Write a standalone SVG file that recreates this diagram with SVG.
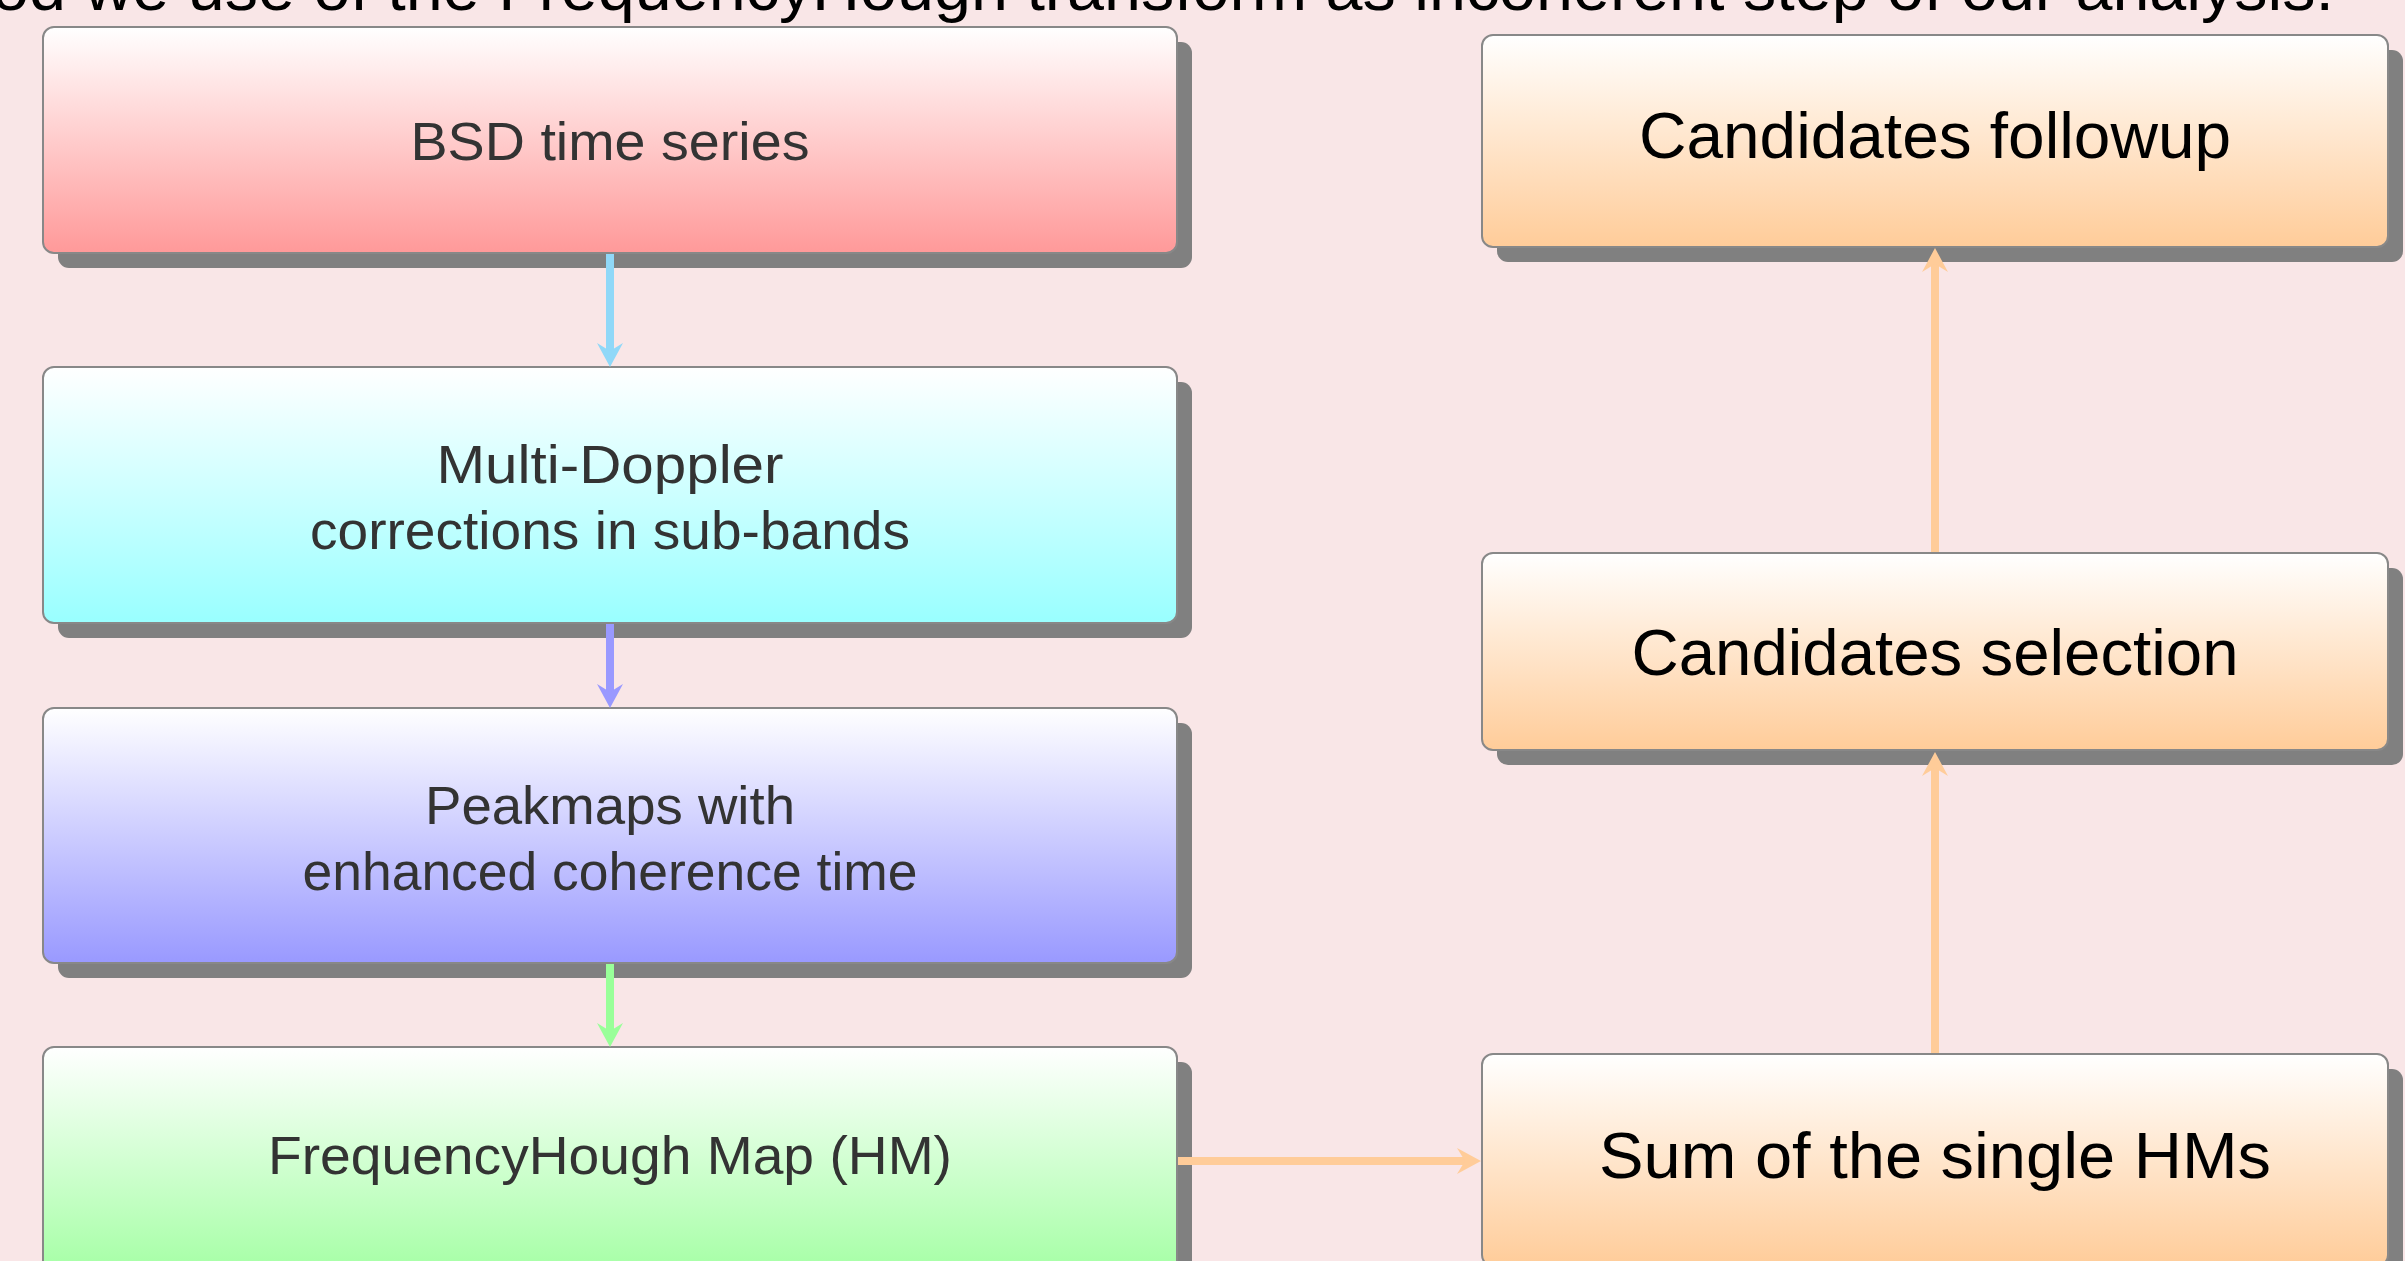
<svg xmlns="http://www.w3.org/2000/svg" width="2405" height="1261" viewBox="0 0 2405 1261">
<defs>
<linearGradient id="gRed" x1="0" y1="0" x2="0" y2="1"><stop offset="0" stop-color="#ffffff"/><stop offset="1" stop-color="#ff9999"/></linearGradient>
<linearGradient id="gCyan" x1="0" y1="0" x2="0" y2="1"><stop offset="0" stop-color="#ffffff"/><stop offset="1" stop-color="#99ffff"/></linearGradient>
<linearGradient id="gBlue" x1="0" y1="0" x2="0" y2="1"><stop offset="0" stop-color="#ffffff"/><stop offset="1" stop-color="#9999ff"/></linearGradient>
<linearGradient id="gGreen" x1="0" y1="0" x2="0" y2="1"><stop offset="0" stop-color="#ffffff"/><stop offset="1" stop-color="#99ff99"/></linearGradient>
<linearGradient id="gOrange" x1="0" y1="0" x2="0" y2="1"><stop offset="0" stop-color="#ffffff"/><stop offset="1" stop-color="#ffcc99"/></linearGradient>
</defs>
<style>
.shadow{fill:#808080}
.box{stroke:#888888;stroke-width:2}
.lt{font-family:"Liberation Sans",Arial,sans-serif;font-size:54px;fill:#333333;text-anchor:middle}
.rt{font-family:"Liberation Sans",Arial,sans-serif;font-size:64px;fill:#000000;text-anchor:middle}
.title{font-family:"Liberation Sans",Arial,sans-serif;font-size:64px;fill:#000000}
.conn{fill:none;stroke-width:8}
</style>
<rect x="0" y="0" width="2405" height="1261" fill="#f9e6e7"/>
<text class="title" x="-8" y="10" textLength="2342" lengthAdjust="spacingAndGlyphs">od we use of the FrequencyHough transform as incoherent step of our analysis.</text>

<g id="node-bsd">
<rect class="shadow" x="58" y="42" width="1134" height="226" rx="11"/>
<rect class="box" x="43" y="27" width="1134" height="226" rx="11" fill="url(#gRed)"/>
<text class="lt" x="610" y="160" textLength="399" lengthAdjust="spacingAndGlyphs">BSD time series</text>
</g>
<g id="node-doppler">
<rect class="shadow" x="58" y="382" width="1134" height="256" rx="11"/>
<rect class="box" x="43" y="367" width="1134" height="256" rx="11" fill="url(#gCyan)"/>
<text class="lt" x="610" y="483" textLength="347" lengthAdjust="spacingAndGlyphs">Multi-Doppler</text>
<text class="lt" x="610" y="549" textLength="600" lengthAdjust="spacingAndGlyphs">corrections in sub-bands</text>
</g>
<g id="node-peakmaps">
<rect class="shadow" x="58" y="723" width="1134" height="255" rx="11"/>
<rect class="box" x="43" y="708" width="1134" height="255" rx="11" fill="url(#gBlue)"/>
<text class="lt" x="610" y="824" textLength="370" lengthAdjust="spacingAndGlyphs">Peakmaps with</text>
<text class="lt" x="610" y="890" textLength="615" lengthAdjust="spacingAndGlyphs">enhanced coherence time</text>
</g>
<g id="node-hm">
<rect class="shadow" x="58" y="1062" width="1134" height="256" rx="11"/>
<rect class="box" x="43" y="1047" width="1134" height="256" rx="11" fill="url(#gGreen)"/>
<text class="lt" x="610" y="1174" textLength="684" lengthAdjust="spacingAndGlyphs">FrequencyHough Map (HM)</text>
</g>
<g id="node-followup">
<rect class="shadow" x="1497" y="50" width="906" height="212" rx="11"/>
<rect class="box" x="1482" y="35" width="906" height="212" rx="11" fill="url(#gOrange)"/>
<text class="rt" x="1935" y="158" textLength="592" lengthAdjust="spacingAndGlyphs">Candidates followup</text>
</g>
<g id="node-selection">
<rect class="shadow" x="1497" y="568" width="906" height="197" rx="11"/>
<rect class="box" x="1482" y="553" width="906" height="197" rx="11" fill="url(#gOrange)"/>
<text class="rt" x="1935" y="675" textLength="607" lengthAdjust="spacingAndGlyphs">Candidates selection</text>
</g>
<g id="node-sum">
<rect class="shadow" x="1497" y="1069" width="906" height="212" rx="11"/>
<rect class="box" x="1482" y="1054" width="906" height="212" rx="11" fill="url(#gOrange)"/>
<text class="rt" x="1935" y="1178" textLength="672" lengthAdjust="spacingAndGlyphs">Sum of the single HMs</text>
</g>

<g id="connectors">
<line class="conn" stroke="#90d8f8" x1="610" y1="254" x2="610" y2="356"/>
<path fill="#90d8f8" d="M610,367 L597,343 L610,351 L623,343 Z"/>
<line class="conn" stroke="#9999ff" x1="610" y1="624" x2="610" y2="697"/>
<path fill="#9999ff" d="M610,708 L597,684 L610,692 L623,684 Z"/>
<line class="conn" stroke="#99ff99" x1="610" y1="964" x2="610" y2="1036"/>
<path fill="#99ff99" d="M610,1047 L597,1023 L610,1031 L623,1023 Z"/>
<line class="conn" stroke="#ffcc99" x1="1178" y1="1161" x2="1470" y2="1161"/>
<path fill="#ffcc99" d="M1481,1161 L1457,1148 L1465,1161 L1457,1174 Z"/>
<line class="conn" stroke="#ffcc99" x1="1935" y1="1053" x2="1935" y2="763"/>
<path fill="#ffcc99" d="M1935,752 L1922,776 L1935,768 L1948,776 Z"/>
<line class="conn" stroke="#ffcc99" x1="1935" y1="552" x2="1935" y2="259"/>
<path fill="#ffcc99" d="M1935,248 L1922,272 L1935,264 L1948,272 Z"/>
</g>
</svg>
